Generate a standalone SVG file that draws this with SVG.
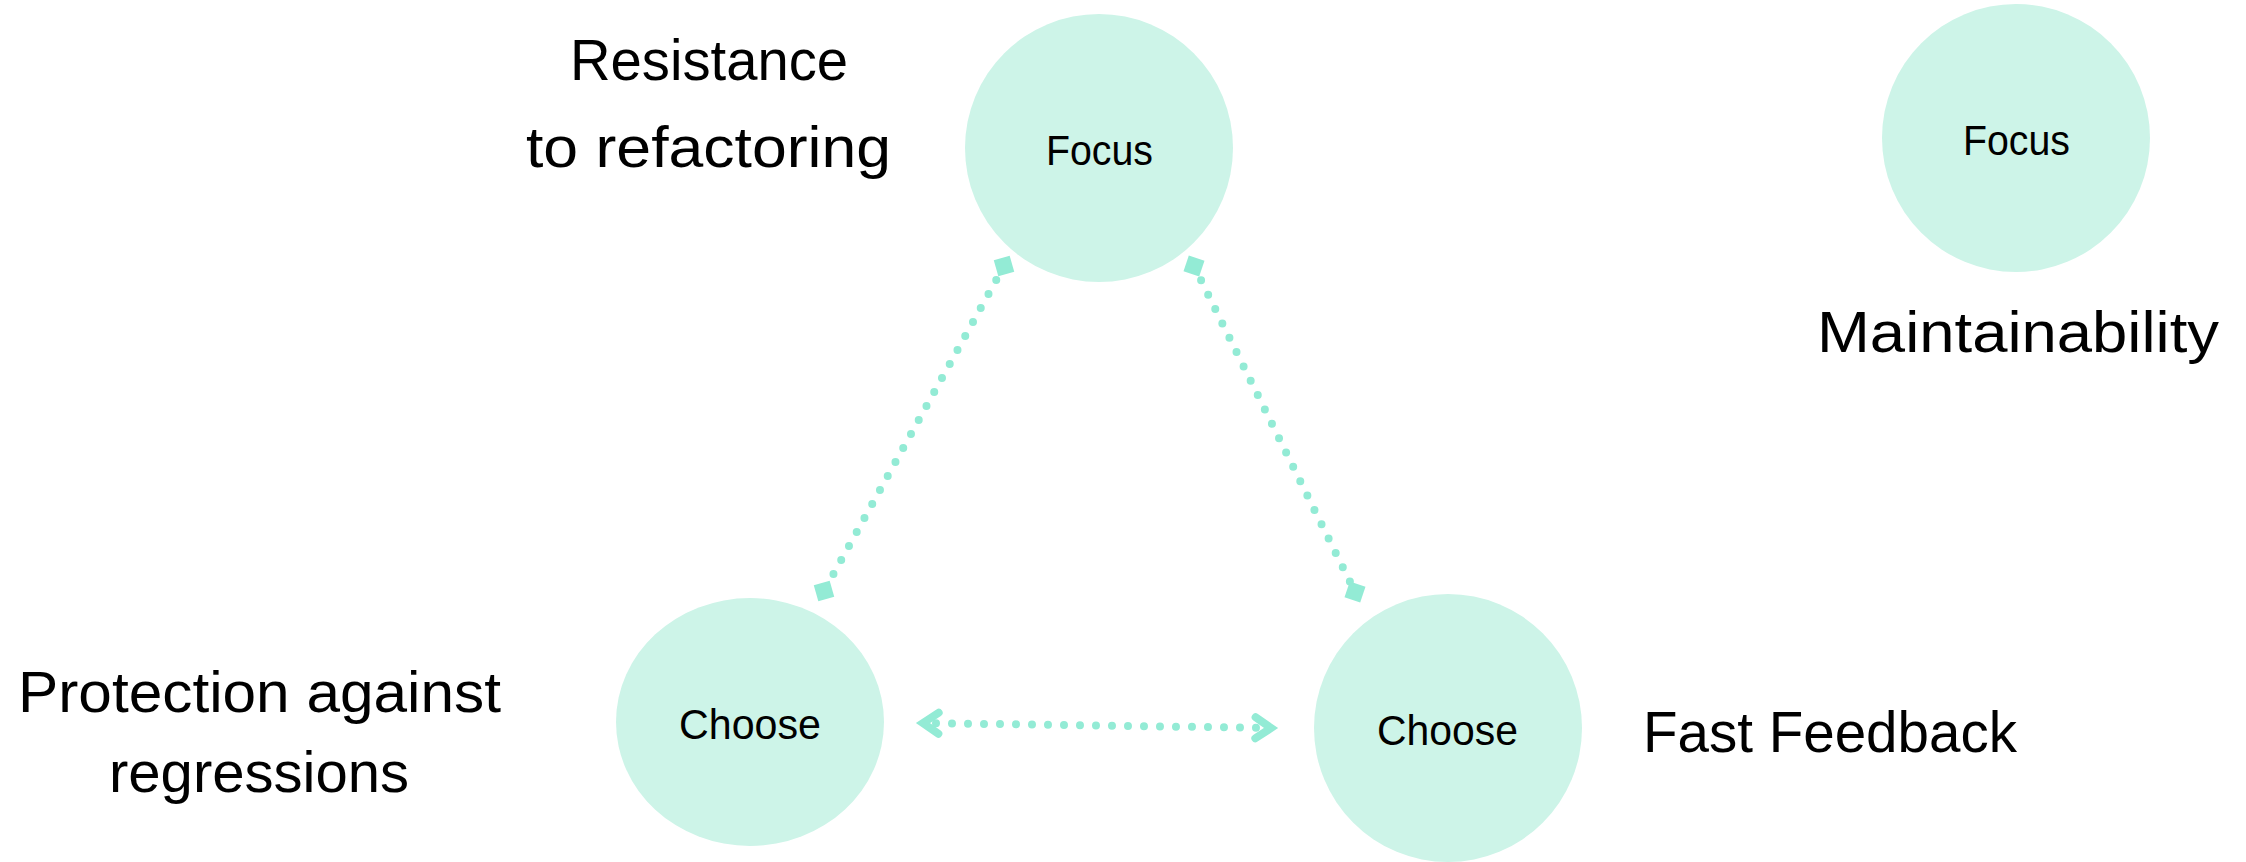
<svg xmlns="http://www.w3.org/2000/svg" width="2246" height="862" viewBox="0 0 2246 862">
  <style>
    .node { fill: #CDF4E8; }
    .small { font-family: "Liberation Sans", Arial, sans-serif; font-size: 42px; fill: #000000; }
    .big { font-family: "Liberation Sans", Arial, sans-serif; font-size: 58px; fill: #000000; }
    .conn { fill: none; stroke: #93EBD5; stroke-width: 8; stroke-linecap: round; stroke-dasharray: 0 16; }
  </style>
  <defs>
    <marker id="diamond" viewBox="-13 -13 26 26" markerWidth="26" markerHeight="26" markerUnits="userSpaceOnUse" refX="0" refY="0" orient="auto">
      <path d="M-11.7 0L0 -11.7L11.7 0L0 11.7Z" fill="#93EBD5"/>
    </marker>
    <marker id="chevron" viewBox="-24 -18 36 36" markerWidth="36" markerHeight="36" markerUnits="userSpaceOnUse" refX="0" refY="0" orient="auto-start-reverse">
      <path d="M-15.5 -10.5L0 0L-15.5 10.5" fill="none" stroke="#93EBD5" stroke-width="8" stroke-linecap="round" stroke-linejoin="miter"/>
    </marker>
  </defs>
  <rect width="2246" height="862" fill="#FFFFFF"/>

  <g id="node-resistance">
    <circle class="node" cx="1099" cy="148" r="134"/>
    <text class="small" x="1046" y="165" textLength="107" lengthAdjust="spacingAndGlyphs">Focus</text>
    <text class="big" x="570" y="80" textLength="278" lengthAdjust="spacingAndGlyphs">Resistance</text>
    <text class="big" x="526" y="167" textLength="365" lengthAdjust="spacingAndGlyphs">to refactoring</text>
  </g>

  <g id="node-maintainability">
    <circle class="node" cx="2016" cy="138" r="134"/>
    <text class="small" x="1963" y="155" textLength="107" lengthAdjust="spacingAndGlyphs">Focus</text>
    <text class="big" x="1817" y="352" textLength="402" lengthAdjust="spacingAndGlyphs">Maintainability</text>
  </g>

  <g id="node-protection">
    <ellipse class="node" cx="750" cy="722" rx="134" ry="124"/>
    <text class="small" x="679" y="739" textLength="142" lengthAdjust="spacingAndGlyphs">Choose</text>
    <text class="big" x="18" y="712" textLength="483" lengthAdjust="spacingAndGlyphs">Protection against</text>
    <text class="big" x="109" y="792" textLength="300" lengthAdjust="spacingAndGlyphs">regressions</text>
  </g>

  <g id="node-fast-feedback">
    <circle class="node" cx="1448" cy="728" r="134"/>
    <text class="small" x="1377" y="745" textLength="141" lengthAdjust="spacingAndGlyphs">Choose</text>
    <text class="big" x="1643" y="752" textLength="374" lengthAdjust="spacingAndGlyphs">Fast Feedback</text>
  </g>

  <g id="connectors">
    <path class="conn" d="M1004 266L824 591" marker-start="url(#diamond)" marker-end="url(#diamond)"/>
    <path class="conn" d="M1194 266L1355 592" marker-start="url(#diamond)" marker-end="url(#diamond)"/>
    <path class="conn" d="M923 723L1271 728" stroke-dashoffset="3" marker-start="url(#chevron)" marker-end="url(#chevron)"/>
  </g>
</svg>
